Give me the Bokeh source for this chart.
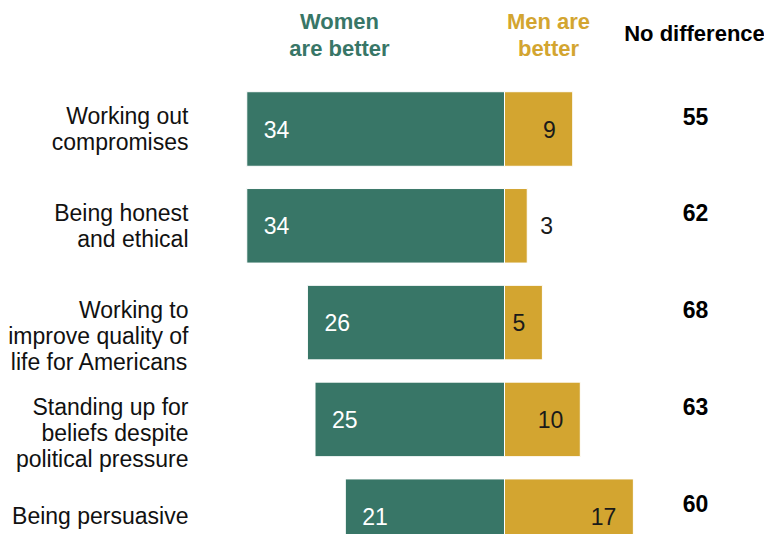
from bokeh.plotting import figure
from bokeh.models import Range1d, Label
from bokeh.core.properties import value
from bokeh.embed import file_html
from bokeh.resources import INLINE

# ---- data ----
categories = [
    "Working out\ncompromises",
    "Being honest\nand ethical",
    "Working to\nimprove quality of\nlife for Americans",
    "Standing up for\nbeliefs despite\npolitical pressure",
    "Being persuasive",
]
women_better = [34, 34, 26, 25, 21]
men_better = [9, 3, 5, 10, 17]
no_difference = [55, 62, 68, 63, 60]

header_women = ["Women", "are better"]
header_men = ["Men are", "better"]
header_nodiff = "No difference"

# ---- styling / geometry ----
GREEN = "#387667"
GOLD = "#D3A530"
FONT = "Liberation Sans"
W, H = 764, 534
ZERO_PX = 504
PX_PER_UNIT = 7.58
ROW0_PX = 128.5
ROW_STEP = 96.8
LINE_H = 26.5

rows = list(range(len(categories)))

p = figure(
    width=W, height=H,
    x_range=Range1d(-ZERO_PX / PX_PER_UNIT, (W - ZERO_PX) / PX_PER_UNIT),
    y_range=Range1d((H - ROW0_PX) / ROW_STEP, -ROW0_PX / ROW_STEP),
    output_backend="svg", toolbar_location=None, min_border=0,
    x_axis_location=None, y_axis_location=None,
)
p.outline_line_color = None
p.grid.visible = False
p.background_fill_color = "white"

# bars
p.hbar(y=rows, left=[-v for v in women_better], right=0, height=0.77,
       fill_color=GREEN, line_color="white", line_width=1)
p.hbar(y=rows, left=0, right=men_better, height=0.77,
       fill_color=GOLD, line_color="white", line_width=1)

# women labels (inside, left)
p.text(x=[-v for v in women_better], y=rows, text=[str(v) for v in women_better],
       x_offset=17, text_align="left", text_baseline="middle", text_color="white",
       text_font=value(FONT), text_font_size="23px")

# men labels
inside_idx = [i for i, v in enumerate(men_better) if v >= 4]
outside_idx = [i for i, v in enumerate(men_better) if v < 4]
p.text(x=[men_better[i] for i in inside_idx], y=[rows[i] for i in inside_idx],
       text=[str(men_better[i]) for i in inside_idx],
       x_offset=-17, text_align="right", text_baseline="middle", text_color="#1a1a1a",
       text_font=value(FONT), text_font_size="23px")
p.text(x=[men_better[i] for i in outside_idx], y=[rows[i] for i in outside_idx],
       text=[str(men_better[i]) for i in outside_idx],
       x_offset=13, text_align="left", text_baseline="middle", text_color="#1a1a1a",
       text_font=value(FONT), text_font_size="23px")

# no difference column
NODIFF_X = (695 - ZERO_PX) / PX_PER_UNIT
p.text(x=[NODIFF_X] * len(rows), y=rows, text=[str(v) for v in no_difference],
       y_offset=-13, text_align="center", text_baseline="middle", text_color="black",
       text_font=value(FONT), text_font_size="23px", text_font_style="bold")

# category labels
CAT_X = (188 - ZERO_PX) / PX_PER_UNIT
offsets = []
for c in categories:
    n = c.count("\n") + 1
    offsets.append(0 if n == 1 else (n - 2) * LINE_H / 2)
for i, c in enumerate(categories):
    p.text(x=[CAT_X], y=[rows[i]], text=[c], y_offset=offsets[i],
           text_align="right", text_baseline="middle", text_color="#111111",
           text_font=value(FONT), text_font_size="23px", text_line_height=1.0)

# headers
def header(txt, x, ytop, color):
    p.add_layout(Label(x=x, y=H - ytop, x_units="screen", y_units="screen", text=txt,
                       text_align="center", text_baseline="middle", text_color=color,
                       text_font=FONT, text_font_size="22px", text_font_style="bold"))

header(header_women[0], 339, 21, GREEN)
header(header_women[1], 339, 48, GREEN)
header(header_men[0], 548, 21, GOLD)
header(header_men[1], 548, 48, GOLD)
header(header_nodiff, 694, 33, "black")

open("out.html", "w").write(file_html(p, INLINE))
